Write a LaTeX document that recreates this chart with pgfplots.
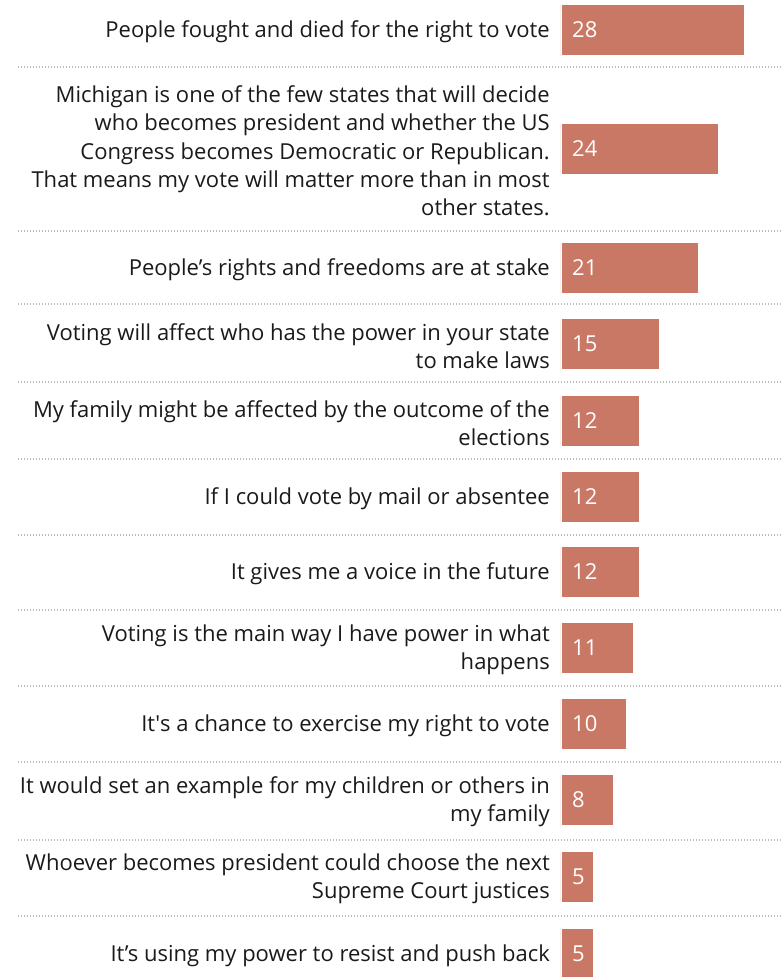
\documentclass[border=0pt]{standalone}
\usepackage{pgfplots}
\pgfplotsset{compat=1.18}
\usepackage{fontspec}
\setmainfont{Open Sans}
\definecolor{barc}{HTML}{C97866}
\definecolor{txt}{HTML}{1A1A1A}
\definecolor{sep}{HTML}{BBBBBB}
\begin{document}
\begin{tikzpicture}
\begin{axis}[
  scale only axis,
  width=221pt, height=977pt,
  xmin=0, xmax=33.79,
  ymin=0, ymax=977,
  y dir=reverse,
  axis line style={draw=none},
  xtick=\empty,
  clip=false,
  ytick={30,149,268,344,421,497,572,648,724,800,877,954},
  yticklabels={
    {People fought and died for the right to vote},
    {Michigan is one of the few states that will decide\\who becomes president and whether the US\\Congress becomes Democratic or Republican.\\That means my vote will matter more than in most\\other states.},
    {People’s rights and freedoms are at stake},
    {Voting will affect who has the power in your state\\to make laws},
    {My family might be affected by the outcome of the\\elections},
    {If I could vote by mail or absentee},
    {It gives me a voice in the future},
    {Voting is the main way I have power in what\\happens},
    {It\textquotesingle s a chance to exercise my right to vote},
    {It would set an example for my children or others in\\my family},
    {Whoever becomes president could choose the next\\Supreme Court justices},
    {It’s using my power to resist and push back}},
  yticklabel style={font=\fontsize{22}{28.3}\selectfont, text=txt, align=right, anchor=east, inner sep=0pt},
  every y tick label/.append style={xshift=-11pt, yshift=-2pt},
  major tick length=0pt,
]
\pgfplotsinvokeforeach{67,231,304,382,459,535,610,686,762,840,916}{
  \draw[sep, line width=1.2pt, dash pattern=on 1.2pt off 1.8pt] ([xshift=-543pt]axis cs:0,#1) -- (axis cs:33.79,#1);
}
\addplot[xbar, bar width=51, fill=barc, draw=white, line width=0.6pt] coordinates {
  (28,30) (24,149) (21,268) (15,344) (12,421) (12,497)
  (12,572) (11,648) (10,724) (8,800) (5,877) (5,954)};
\addplot[draw=none, mark=none, nodes near coords, point meta=explicit symbolic,
  nodes near coords style={anchor=west, text=white, inner sep=0pt, xshift=11pt,
  font=\fontsize{22}{26}\selectfont}] coordinates {
  (0,30)[28] (0,149)[24] (0,268)[21] (0,344)[15] (0,421)[12] (0,497)[12]
  (0,572)[12] (0,648)[11] (0,724)[10] (0,800)[8] (0,877)[5] (0,954)[5]};
\end{axis}
\pgfresetboundingbox
\path (current axis.south east) ++(-782pt,0) rectangle (current axis.north east);
\end{tikzpicture}
\end{document}
